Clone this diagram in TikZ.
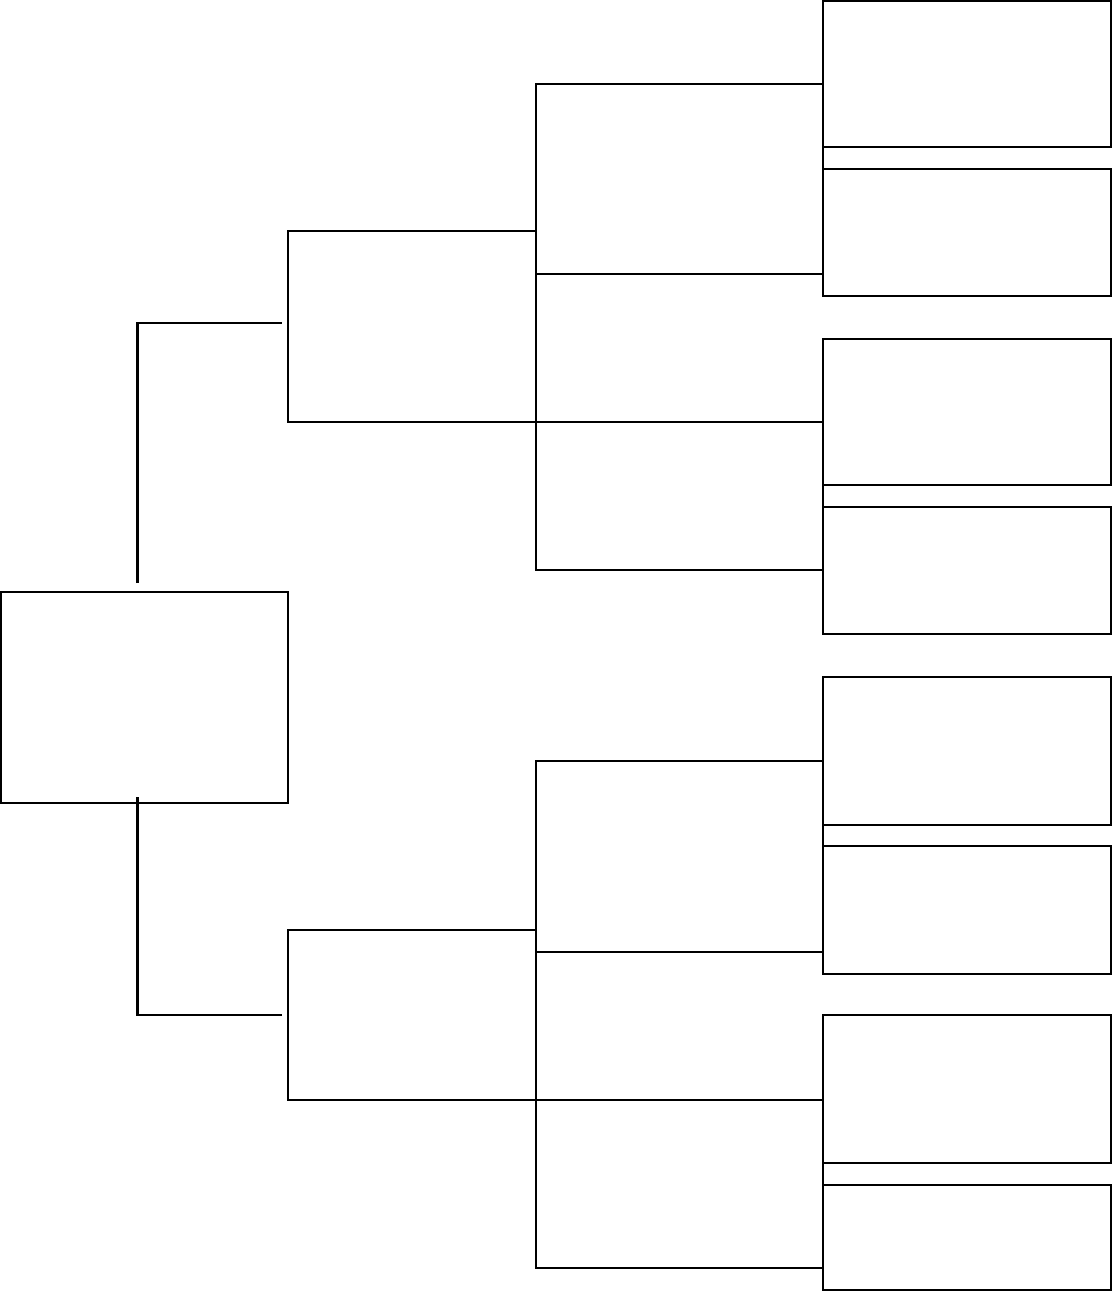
\documentclass[tikz,border=0pt]{standalone}
\usetikzlibrary{fit}
\tikzset{
  cell/.style={rectangle, draw=black, line width=0.8pt, inner sep=0pt, outer sep=0pt},
  bracket/.style={rectangle, inner sep=0pt, outer sep=0pt},
  side/.style={draw=black, line width=0.9pt},
  link/.style={draw=black, line width=1.4pt},
}
%% \Cell[<style>]{<name>}{<x-left>}{<y-top>}{<x-right>}{<y-bottom>}
\newcommand{\Cell}[6][cell]{%
\node[#1, fit={(#3,#4) (#5,#6)}] (#2) {};%
}

\begin{document}
\begin{tikzpicture}[x=0.02cm, y=-0.02cm]
  \useasboundingbox (0,0) rectangle (1112,1291);
  % root:
  \Cell{root}{0.8}{592}{288}{803}
  %
  % first level:
  \Cell{upper}{288}{231}{536}{422}
  \Cell{lower}{288}{930}{536}{1100}
  %
  % second level, open on the right:
  \Cell[bracket]{ua}{536}{84}{823}{274}
  \Cell[bracket]{ub}{536}{274}{823}{422}
  \Cell[bracket]{uc}{536}{422}{823}{570}
  \Cell[bracket]{la}{536}{761}{823}{952}
  \Cell[bracket]{lb}{536}{952}{823}{1100}
  \Cell[bracket]{lc}{536}{1100}{823}{1268}
  \foreach \n in {ua,ub,uc,la,lb,lc}
    \draw[side] (\n.north east) -- (\n.north west) -- (\n.south west) -- (\n.south east);
  %
  % third level:
  \Cell{p1}{823}{0.8}{1111}{147}
  \Cell{p2}{823}{169}{1111}{296}
  \Cell{p3}{823}{339}{1111}{485}
  \Cell{p4}{823}{507}{1111}{634}
  \Cell{p5}{823}{677}{1111}{825}
  \Cell{p6}{823}{846}{1111}{974}
  \Cell{p7}{823}{1015}{1111}{1163}
  \Cell{p8}{823}{1185}{1111}{1290}
  \foreach \a/\b in {p1/p2,p3/p4,p5/p6,p7/p8}
    \draw[side] (\a.south west) -- (\b.north west);
  %
  % connectors:
  \draw[link] ([shift={(-7,-9)}]root.north) |- ([shift={(-6,-3.5)}]upper.west);
  \draw[link] ([shift={(-7,-6)}]root.south) |- ([shift={(-6,0)}]lower.west);
\end{tikzpicture}
\end{document}
